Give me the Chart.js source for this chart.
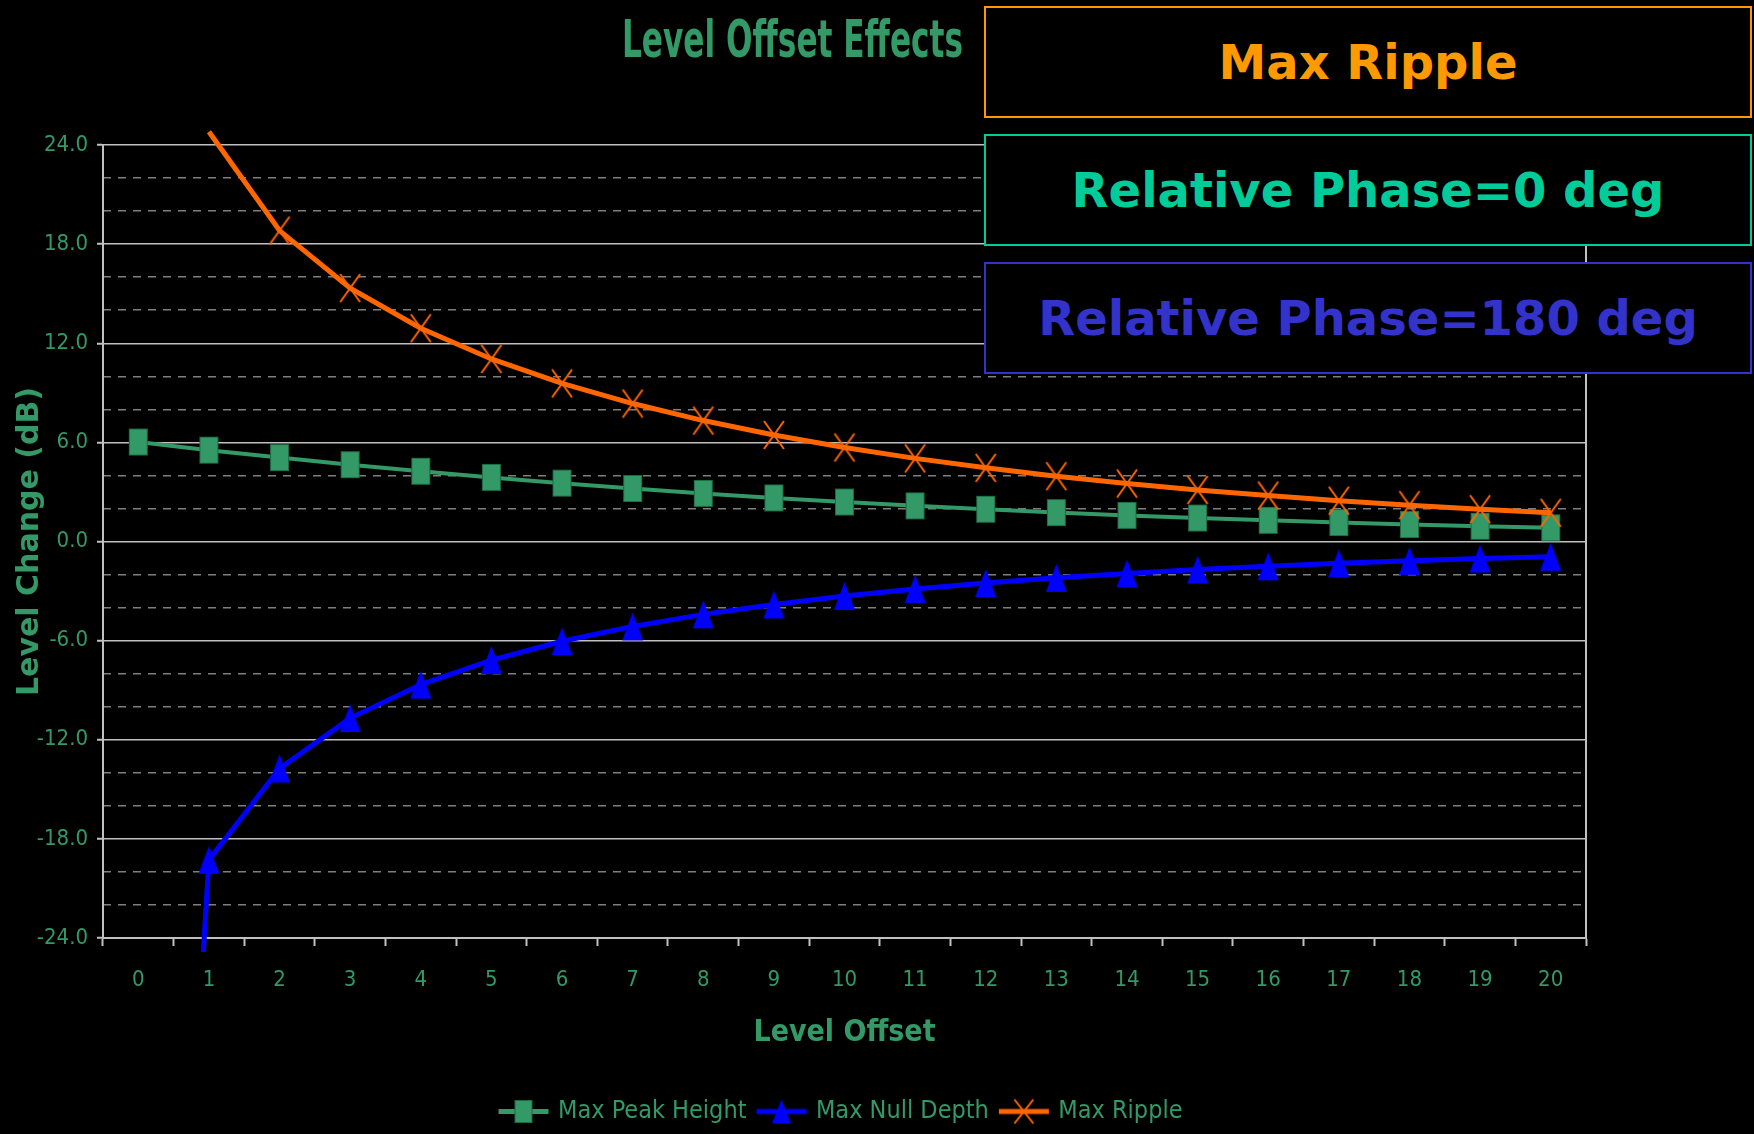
<!DOCTYPE html>
<html>
<head>
<meta charset="utf-8">
<title>Level Offset Effects</title>
<script src="https://cdn.jsdelivr.net/npm/chart.js@4.4.0/dist/chart.umd.min.js"></script>
<style>
  body { margin: 0; background: #000; }
  #wrap { position: relative; width: 1754px; height: 1134px; background: #000; overflow: hidden; }
  #chart { position: absolute; left: 0; top: 0; }
  #title {
    position: absolute; left: 622px; top: 13px;
    font-family: "Liberation Sans Narrow", "Arial Narrow", "DejaVu Sans Condensed", sans-serif;
    font-weight: bold; font-size: 52px; line-height: 1; color: #339966;
    white-space: nowrap; transform-origin: 0 0;
  }
  .box {
    position: absolute; left: 984px; width: 768px; height: 112px; box-sizing: border-box;
    border: 2px solid; background: #000;
    display: flex; align-items: center; justify-content: center;
    font-family: "DejaVu Sans", Verdana, sans-serif; font-weight: bold; font-size: 48px;
    white-space: nowrap;
  }
</style>
</head>
<body>
<div id="wrap">
  <canvas id="chart" width="1754" height="1134"></canvas>
  <div id="title">Level Offset Effects</div>
  <div class="box" style="top:6px; border-color:#ff9900; color:#ff9900;">Max Ripple</div>
  <div class="box" style="top:134px; border-color:#00cc99; color:#00cc99;">Relative Phase=0 deg</div>
  <div class="box" style="top:262px; border-color:#3333cc; color:#3333cc;">Relative Phase=180 deg</div>
</div>
<script>
// level offset (dB) on the category axis
const levelOffset = ['0', '1', '2', '3', '4', '5', '6', '7', '8', '9', '10',
                     '11', '12', '13', '14', '15', '16', '17', '18', '19', '20'];

// values (dB)
const maxPeakHeight = [6.02, 5.53, 5.08, 4.65, 4.25, 3.88, 3.53, 3.21, 2.91, 2.64, 2.39,
                       2.16, 1.95, 1.75, 1.58, 1.42, 1.28, 1.15, 1.03, 0.92, 0.83];
const maxNullDepth = [-90, -19.27, -13.74, -10.69, -8.66, -7.18, -6.04, -5.14, -4.41, -3.81, -3.30,
                      -2.87, -2.51, -2.20, -1.93, -1.70, -1.50, -1.32, -1.17, -1.03, -0.92];
const maxRipple = [null, 24.80, 18.82, 15.34, 12.91, 11.05, 9.57, 8.35, 7.32, 6.45, 5.69,
                   5.03, 4.46, 3.95, 3.51, 3.12, 2.78, 2.47, 2.20, 1.95, 1.74];

// y axis: labelled ticks every 6 dB, dashed minor lines every 2 dB
const yMajorTicks = [-24, -18, -12, -6, 0, 6, 12, 18, 24];
const yMinorStep = 2;

const NARROW = '"Liberation Sans Narrow", "Arial Narrow", "DejaVu Sans Condensed", sans-serif';
const GREEN = '#339966';
const GRID = '#c0c0c0';

// markers are drawn into small canvases (the original markers are taller than wide)
function makeMarker(kind, color, w, h, lineLen, lineWidth) {
  const c = document.createElement('canvas');
  const cw = Math.max(w, lineLen || 0) + 4;
  const ch = h + 4;
  c.width = cw;
  c.height = ch;
  const g = c.getContext('2d');
  const cx = cw / 2, cy = ch / 2;
  if (lineLen) {
    g.strokeStyle = color;
    g.lineWidth = lineWidth;
    g.beginPath();
    g.moveTo(cx - lineLen / 2, cy);
    g.lineTo(cx + lineLen / 2, cy);
    g.stroke();
  }
  if (kind === 'square') {
    g.fillStyle = color;
    g.fillRect(cx - w / 2, cy - h / 2, w, h);
    g.strokeStyle = '#1e6b45';
    g.lineWidth = 1;
    g.strokeRect(cx - w / 2 + 0.5, cy - h / 2 + 0.5, w - 1, h - 1);
  } else if (kind === 'triangle') {
    g.fillStyle = color;
    g.beginPath();
    g.moveTo(cx, cy - h / 2);
    g.lineTo(cx + w / 2, cy + h / 2);
    g.lineTo(cx - w / 2, cy + h / 2);
    g.closePath();
    g.fill();
  } else if (kind === 'cross') {
    g.strokeStyle = color;
    g.lineWidth = 2;
    g.beginPath();
    g.moveTo(cx - w / 2, cy - h / 2);
    g.lineTo(cx + w / 2, cy + h / 2);
    g.moveTo(cx + w / 2, cy - h / 2);
    g.lineTo(cx - w / 2, cy + h / 2);
    g.stroke();
  }
  return c;
}

const peakMarker = makeMarker('square', GREEN, 19, 27);
const nullMarker = makeMarker('triangle', '#0000ff', 21, 28);
const rippleMarker = makeMarker('cross', '#ff6600', 20, 28);

const legendIcons = [
  makeMarker('square', GREEN, 18, 23, 50, 5),
  makeMarker('triangle', '#0000ff', 19, 24, 50, 5),
  makeMarker('cross', '#ff6600', 19, 24, 50, 5)
];

new Chart(document.getElementById('chart'), {
  type: 'line',
  data: {
    labels: levelOffset,
    datasets: [
      {
        label: 'Max Peak Height',
        data: maxPeakHeight,
        borderColor: GREEN,
        backgroundColor: GREEN,
        borderWidth: 4,
        pointStyle: peakMarker,
        pointRadius: 8,
        tension: 0,
        order: 2
      },
      {
        label: 'Max Null Depth',
        data: maxNullDepth,
        borderColor: '#0000ff',
        backgroundColor: '#0000ff',
        borderWidth: 5,
        pointStyle: nullMarker,
        pointRadius: 8,
        tension: 0,
        order: 1,
        clip: { left: 0, top: 0, right: 0, bottom: 14 }
      },
      {
        label: 'Max Ripple',
        data: maxRipple,
        borderColor: '#ff6600',
        backgroundColor: '#ff6600',
        borderWidth: 5,
        pointStyle: rippleMarker,
        pointRadius: 8,
        tension: 0,
        order: 0,
        clip: { left: 0, top: 16, right: 0, bottom: 0 }
      }
    ]
  },
  options: {
    responsive: false,
    animation: false,
    layout: { padding: { left: 0, right: 70, top: 145, bottom: 0 } },
    plugins: {
      tooltip: { enabled: false },
      legend: {
        position: 'bottom',
        labels: {
          usePointStyle: true,
          pointStyleWidth: 44,
          padding: 13,
          color: GREEN,
          font: { family: NARROW, size: 25 },
          generateLabels: function(chart) {
            return chart.data.datasets.map(function(ds, i) {
              return {
                text: ds.label,
                pointStyle: legendIcons[i],
                fillStyle: 'rgba(0,0,0,0)',
                strokeStyle: 'rgba(0,0,0,0)',
                lineWidth: 0,
                hidden: false,
                datasetIndex: i,
                fontColor: GREEN
              };
            });
          }
        }
      }
    },
    scales: {
      x: {
        type: 'category',
        offset: true,
        grid: {
          offset: true,
          drawOnChartArea: false,
          drawTicks: true,
          tickLength: 8,
          tickWidth: 2,
          tickColor: GRID,
          color: GRID
        },
        border: { display: true, color: GRID, width: 2 },
        ticks: {
          color: GREEN,
          font: { family: NARROW, size: 22 },
          padding: 21,
          maxRotation: 0,
          autoSkip: false
        },
        title: {
          display: true,
          text: 'Level Offset',
          color: GREEN,
          font: { family: NARROW, size: 30, weight: 'bold' },
          padding: { top: 0, bottom: 35 }
        },
        afterFit: function(scale) { scale.height = 148; }
      },
      y: {
        position: 'left',
        min: yMajorTicks[0],
        max: yMajorTicks[yMajorTicks.length - 1],
        ticks: {
          stepSize: yMajorTicks[1] - yMajorTicks[0],
          maxTicksLimit: 100,
          color: GREEN,
          font: { family: NARROW, size: 22 },
          padding: 9,
          callback: function(v) { return Number(v).toFixed(1); }
        },
        grid: {
          color: GRID,
          lineWidth: 1.5,
          tickLength: 6,
          tickWidth: 2,
          tickColor: GRID
        },
        border: { display: true, color: GRID, width: 2 },
        title: {
          display: true,
          text: 'Level Change (dB)',
          color: GREEN,
          font: { family: '"DejaVu Sans", Verdana, sans-serif', size: 30, weight: 'bold' },
          padding: { top: 12, bottom: 0 }
        },
        afterFit: function(scale) { scale.width = 103; }
      },
      // second axis only for the dashed minor grid and the right frame line
      y2: {
        position: 'right',
        min: yMajorTicks[0],
        max: yMajorTicks[yMajorTicks.length - 1],
        ticks: { display: false, stepSize: yMinorStep, maxTicksLimit: 100 },
        grid: {
          drawTicks: false,
          lineWidth: 1.5,
          color: function(ctx) {
            if (ctx.tick && ctx.tick.value % 6 === 0) return 'rgba(0,0,0,0)';
            return '#7f7f7f';
          }
        },
        border: { display: true, color: GRID, width: 2, dash: [8, 7] },
        afterFit: function(scale) { scale.width = 98; }
      }
    }
  }
});

// squeeze the heading to the width it has in the original
document.fonts.ready.then(function() {
  const t = document.getElementById('title');
  const w = t.getBoundingClientRect().width;
  if (w > 0) t.style.transform = 'scaleX(' + (341 / w) + ')';
});
</script>
</body>
</html>
